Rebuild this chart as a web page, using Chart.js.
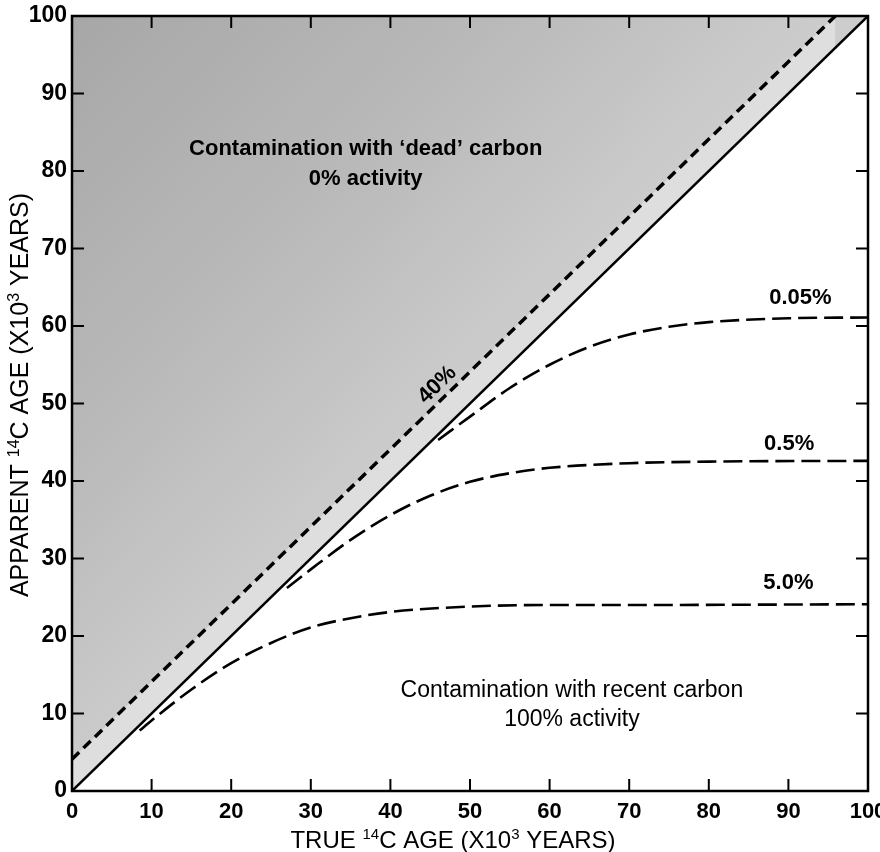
<!DOCTYPE html>
<html>
<head>
<meta charset="utf-8">
<script src="https://cdn.jsdelivr.net/npm/chart.js@4.4.1/dist/chart.umd.min.js"></script>
<style>
  html, body { margin: 0; padding: 0; background: #fff; }
  #wrap { width: 880px; height: 852px; position: relative; }
</style>
</head>
<body>
<div id="wrap"><canvas id="chart"></canvas></div>
<script>
// axis ticks (x10^3 years)
const tickValues = [0, 10, 20, 30, 40, 50, 60, 70, 80, 90, 100];

// true age = apparent age
const diagX = [0, 100];
const diagY = [0, 100];

// 40% 'dead' carbon
const dead40X = [0, 95.9];
const dead40Y = [4.1, 100];

// recent carbon contamination curves
const c005X = [46, 50, 55, 60, 65, 70, 75, 80, 90, 100];
const c005Y = [45.3, 48.3, 52.0, 55.0, 57.3, 58.9, 59.9, 60.5, 61.0, 61.1];
const c05X = [27, 30, 35, 40, 45, 50, 55, 60, 70, 80, 100];
const c05Y = [26.2, 28.6, 32.4, 35.6, 38.1, 39.9, 41.0, 41.7, 42.3, 42.5, 42.6];
const c5X = [8.5, 10, 15, 20, 25, 30, 35, 40, 50, 60, 70, 100];
const c5Y = [7.8, 9.1, 13.1, 16.5, 19.1, 21.1, 22.3, 23.1, 23.8, 24.0, 24.0, 24.1];

const curveLabels = ['0.05%', '0.5%', '5.0%'];
const curveLabelX = [91.5, 90.1, 90.0];
const curveLabelY = [63.6, 44.8, 26.8];

const pts = (xs, ys) => xs.map((x, i) => ({ x: x, y: ys[i] }));

function shade(ctx) {
  const a = ctx.chart.chartArea;
  if (!a) return '#bbbbbb';
  const g = ctx.chart.ctx.createLinearGradient(a.left, a.top, (a.left + a.right) / 2, (a.top + a.bottom) / 2);
  g.addColorStop(0, '#a7a7a7');
  g.addColorStop(0.55, '#b9b9b9');
  g.addColorStop(1, '#cdcdcd');
  return g;
}

// draw text with superscript parts, e.g. [['TRUE ',0],['14',1],...]
function richText(c, parts, x, y, size) {
  const big = size + 'px "Liberation Sans", Arial, sans-serif';
  const small = Math.round(size * 0.62) + 'px "Liberation Sans", Arial, sans-serif';
  let total = 0;
  parts.forEach(p => { c.font = p[1] ? small : big; total += c.measureText(p[0]).width; });
  let cx = x - total / 2;
  c.textAlign = 'left';
  c.textBaseline = 'alphabetic';
  parts.forEach(p => {
    c.font = p[1] ? small : big;
    c.fillText(p[0], cx, p[1] ? y - size * 0.36 : y);
    cx += c.measureText(p[0]).width;
  });
}

const decor = {
  id: 'decor',
  afterDatasetsDraw(chart) {
    const c = chart.ctx;
    const a = chart.chartArea;
    const xs = chart.scales.x, ys = chart.scales.y;
    c.save();
    c.strokeStyle = '#000';
    c.fillStyle = '#000';
    // frame
    c.lineWidth = 2.5;
    c.strokeRect(a.left, a.top, a.right - a.left, a.bottom - a.top);
    // inward ticks on all four sides
    c.lineWidth = 2;
    const len = 12;
    tickValues.forEach(v => {
      const px = xs.getPixelForValue(v), py = ys.getPixelForValue(v);
      c.beginPath();
      c.moveTo(px, a.bottom); c.lineTo(px, a.bottom - len);
      c.moveTo(px, a.top); c.lineTo(px, a.top + len);
      c.moveTo(a.left, py); c.lineTo(a.left + len, py);
      c.moveTo(a.right, py); c.lineTo(a.right - len, py);
      c.stroke();
    });
    // axis titles
    richText(c, [['TRUE ', 0], ['14', 1], ['C AGE (X10', 0], ['3', 1], [' YEARS)', 0]], 453, 848, 24);
    c.save();
    c.translate(28, 395);
    c.rotate(-Math.PI / 2);
    richText(c, [['APPARENT ', 0], ['14', 1], ['C AGE (X10', 0], ['3', 1], [' YEARS)', 0]], 0, 0, 25);
    c.restore();
    // region notes
    c.textAlign = 'center';
    c.textBaseline = 'middle';
    c.font = 'bold 22px "Liberation Sans", Arial, sans-serif';
    c.fillText('Contamination with \u2018dead\u2019 carbon', xs.getPixelForValue(36.9), ys.getPixelForValue(82.8));
    c.fillText('0% activity', xs.getPixelForValue(36.9), ys.getPixelForValue(79.0));
    c.font = '23px "Liberation Sans", Arial, sans-serif';
    c.fillText('Contamination with recent carbon', xs.getPixelForValue(62.8), ys.getPixelForValue(13.0));
    c.fillText('100% activity', xs.getPixelForValue(62.8), ys.getPixelForValue(9.2));
    // curve labels
    c.font = 'bold 22px "Liberation Sans", Arial, sans-serif';
    curveLabels.forEach((t, i) => {
      c.fillText(t, xs.getPixelForValue(curveLabelX[i]), ys.getPixelForValue(curveLabelY[i]));
    });
    // 40% label along the dashed line
    const ang = Math.atan2(ys.getPixelForValue(100) - ys.getPixelForValue(0), xs.getPixelForValue(100) - xs.getPixelForValue(0));
    c.save();
    c.translate(xs.getPixelForValue(45.9), ys.getPixelForValue(52.4));
    c.rotate(ang);
    c.fillText('40%', 0, 0);
    c.restore();
    c.restore();
  }
};

const curveStyle = {
  borderColor: '#000',
  borderWidth: 2.6,
  borderDash: [19, 7],
  pointRadius: 0,
  fill: false,
  cubicInterpolationMode: 'monotone',
  order: 0
};

new Chart(document.getElementById('chart'), {
  type: 'line',
  data: {
    datasets: [
      {
        label: 'true = apparent',
        data: pts(diagX, diagY),
        borderColor: '#000',
        borderWidth: 2.5,
        pointRadius: 0,
        fill: 'end',
        backgroundColor: shade,
        order: 10
      },
      {
        label: '40%',
        data: pts(dead40X, dead40Y),
        borderColor: '#000',
        borderWidth: 3.5,
        borderDash: [10, 6],
        pointRadius: 0,
        fill: { target: 0 },
        backgroundColor: '#dedede',
        order: 9
      },
      Object.assign({ label: '0.05%', data: pts(c005X, c005Y) }, curveStyle),
      Object.assign({ label: '0.5%', data: pts(c05X, c05Y) }, curveStyle),
      Object.assign({ label: '5.0%', data: pts(c5X, c5Y) }, curveStyle)
    ]
  },
  options: {
    responsive: true,
    maintainAspectRatio: false,
    animation: false,
    devicePixelRatio: 1,
    layout: { padding: { top: 16, right: 12, left: 0, bottom: 0 } },
    plugins: {
      legend: { display: false },
      tooltip: { enabled: false },
      filler: { drawTime: 'beforeDatasetsDraw' }
    },
    scales: {
      x: {
        type: 'linear', min: 0, max: 100,
        grid: { display: false, drawTicks: false },
        border: { display: false },
        ticks: {
          stepSize: 10, maxRotation: 0, padding: 8, color: '#000',
          font: { family: '"Liberation Sans", Arial, sans-serif', size: 22, weight: 'bold' }
        },
        afterFit(s) { s.height = 61; s.paddingLeft = 0; s.paddingRight = 0; }
      },
      y: {
        type: 'linear', min: 0, max: 100,
        grid: { display: false, drawTicks: false },
        border: { display: false },
        ticks: {
          stepSize: 10, padding: 5, color: '#000',
          font: { family: '"Liberation Sans", Arial, sans-serif', size: 23, weight: 'bold' }
        },
        afterFit(s) { s.width = 72; s.paddingTop = 0; s.paddingBottom = 0; }
      }
    }
  },
  plugins: [decor]
});
</script>
</body>
</html>
